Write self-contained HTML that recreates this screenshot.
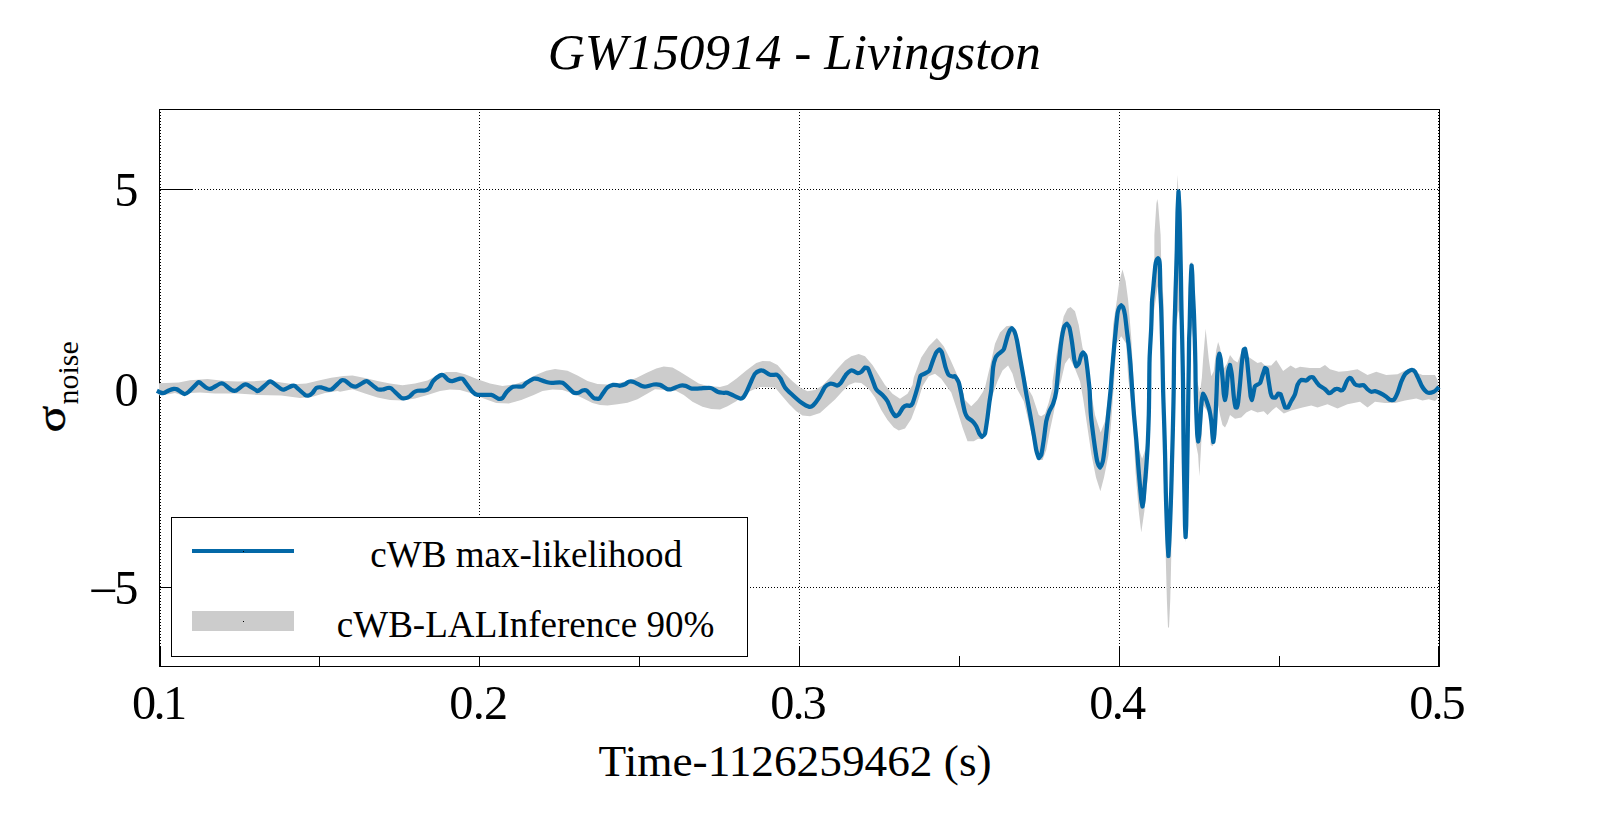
<!DOCTYPE html>
<html lang="en">
<head>
<meta charset="utf-8">
<title>GW150914 - Livingston</title>
<style>
html,body{margin:0;padding:0;background:#fff;}
body{width:1599px;height:813px;overflow:hidden;}
svg{display:block;}
text{font-family:"Liberation Serif", serif;fill:#000;}
.tick{font-size:48.3px;}
</style>
</head>
<body>
<svg width="1599" height="813" viewBox="0 0 1599 813">
<rect x="0" y="0" width="1599" height="813" fill="#ffffff"/>
<!-- grid -->
<g stroke="#000" stroke-width="1" stroke-dasharray="1 2" shape-rendering="crispEdges" fill="none">
<path d="M160.5 109V666" stroke-dashoffset="0"/>
<path d="M479.5 109V666"/>
<path d="M799.5 109V666"/>
<path d="M1119.5 109V666"/>
<path d="M1438.5 109V666"/>
<path d="M159 189.5H1439"/>
<path d="M159 388.5H1439"/>
<path d="M159 587.5H1439"/>
</g>
<!-- frame and ticks -->
<g stroke="#000" stroke-width="1" shape-rendering="crispEdges" fill="none">
<rect x="159.5" y="109.5" width="1280" height="557"/>
<path d="M160.5 646V666M479.5 646V666M799.5 646V666M1119.5 646V666M1438.5 646V666"/>
<path d="M319.5 656V666M639.5 656V666M959.5 656V666M1279.5 656V666"/>
<path d="M159 189.5H192M159 388.5H192M159 587.5H192"/>
</g>
<!-- credible band -->
<path d="M159 383.25 L178.75 382.38 L190 380.25 L207.5 379 L225 381.12 L237.5 381.5 L256.25 381.12 L268.75 380.25 L281.25 382.38 L293.75 384.25 L306.25 383.62 L318.75 380.5 L331.25 377.75 L343.75 376.12 L352.5 375.5 L365 378 L377.5 381.12 L390 383.62 L402.5 385.25 L415 383.62 L427.5 380.5 L437.5 374.88 L446.25 372 L456.25 372 L465 374.25 L477.5 379.25 L490 383.62 L502.5 386.12 L515 384.25 L527.5 379.88 L530 378 L537.5 374.25 L546.25 370.75 L555 369 L567.5 370.75 L577.5 375.5 L587.5 381.12 L597.5 384 L607.5 384.5 L617.5 383.25 L627.5 381.12 L636.25 378 L646.25 373 L656.25 368.62 L663.75 366.5 L672.5 367.38 L680 371.75 L690 378 L698.75 383.62 L707.5 386.12 L717.5 386.75 L720 386.88 L727.5 385 L736.25 378.75 L746.25 370.62 L756.25 363.12 L762.5 361 L770 361.25 L777.5 365 L785 373.75 L792.5 381.25 L800 387.5 L807.5 391.25 L815 390 L822.5 385.62 L830 377.5 L837.5 368.75 L845 360.62 L851.25 356.25 L858.75 354 L865 356.25 L872.5 365 L878.75 375 L885 385 L892.5 393.75 L900 398.75 L907.5 393.75 L907.5 393.75 L912.5 385 L913.75 377.5 L921.25 357.5 L928.75 346.25 L936.88 338.12 L943.75 346.25 L950 358.75 L955 370 L958.75 378.75 L962.5 390 L965 400 L971.25 406.25 L977.5 400 L982.5 392.5 L985 387.5 L990 366.25 L995 343.75 L1000 332.5 L1006.25 326.25 L1011.25 325.62 L1016.25 333.75 L1020 350 L1023.75 370 L1027.5 387.5 L1032.5 396.25 L1038.75 415 L1041.25 416.25 L1045 413.75 L1048.75 402.5 L1052.5 387.5 L1052.5 381.25 L1056.25 356.25 L1060 333.75 L1063.75 316.25 L1067.5 308.75 L1070.62 306.88 L1075 311.25 L1078.75 325 L1082.5 347.5 L1085 355 L1087.5 366.25 L1091.25 393.75 L1095 415 L1100.62 432.5 L1105 421.25 L1108.75 393.75 L1111.25 371.25 L1113.12 325 L1116.88 300 L1119.38 281.25 L1122.5 269.38 L1125.62 281.25 L1128.12 300 L1131.25 337.5 L1135 408.75 L1138.75 448.75 L1142.12 458.75 L1145.62 448.75 L1149.38 390 L1151.88 287.5 L1154.38 262.5 L1154.38 235 L1156.38 203.75 L1157.25 199 L1158.12 203.75 L1160.62 235 L1161.25 262.5 L1163.5 300 L1164.38 390 L1166.25 480 L1168.38 517.5 L1170.62 480 L1173.12 390 L1174.38 275 L1176.25 210 L1177.5 175 L1179.38 210 L1182.75 287.5 L1183.5 390 L1184.75 492.5 L1185.62 530 L1186.62 492.5 L1187.25 390 L1188.5 287.5 L1190.62 262.5 L1192.5 262.5 L1195 300 L1196.25 377.5 L1200 392.5 L1201.88 377.5 L1203.12 358.75 L1205.62 328.75 L1208.75 358.75 L1211.25 376.25 L1213.75 371.25 L1216.25 350 L1218.12 341.88 L1220 347.5 L1223.75 368.75 L1226.88 363.75 L1230 355 L1233.75 360 L1237.5 362.5 L1241.25 352.5 L1243.75 347.5 L1247.5 356.25 L1251.25 358.75 L1257.5 363.12 L1261.25 361.88 L1265 365.62 L1271.25 365.62 L1276.25 360 L1283.12 371.12 L1290.62 365.5 L1295.62 368.62 L1300 366.75 L1310 368 L1320 368 L1325 364.88 L1330 369.25 L1338.75 371.75 L1347.5 371.12 L1357.5 369.25 L1367.5 374.88 L1376.25 371.75 L1386.25 374.88 L1397.5 374.25 L1405 370.5 L1410 368.62 L1417.5 373 L1422.5 374.88 L1435 374.88 L1437.75 380.5 L1437.75 398 L1435 401.12 L1428.75 399.25 L1422.5 400.5 L1416.25 398.62 L1405 400.5 L1395 403 L1385 403 L1375 401.75 L1367.5 407.38 L1360 401.75 L1347.5 404.25 L1337.5 408.62 L1327.5 404.25 L1317.5 407.38 L1311.25 405.5 L1302.5 407.38 L1291.25 410.5 L1283.75 413.62 L1276.25 406.88 L1272.5 410 L1267.5 415 L1263.75 411.25 L1257.5 412.5 L1251.25 410 L1246.25 412.5 L1241.25 417.5 L1235 418.75 L1230 415 L1227.5 422.5 L1225 427.5 L1222.5 425 L1220 415 L1217.5 402.5 L1215.62 437.5 L1212.75 446.25 L1210.62 445 L1210 415 L1203.12 405 L1201 448.75 L1199.38 476.25 L1198.12 455 L1195.62 442.5 L1194.75 377.5 L1193 337.5 L1191.5 325 L1190 337.5 L1188.75 377.5 L1188.5 467.5 L1187.5 517.5 L1185.62 542.5 L1184 517.5 L1182.75 467.5 L1182.75 377.5 L1180.75 325 L1178.5 310 L1176.25 325 L1174 377.5 L1173.75 467.5 L1171.25 517.5 L1171.25 557.5 L1170.25 600 L1169 627.5 L1168 627.5 L1166.88 600 L1165.75 557.5 L1165.62 517.5 L1163.12 467.5 L1161.88 377.5 L1161.25 312.5 L1157.75 286.25 L1153.75 312.5 L1150.62 358.75 L1148.12 402.5 L1148.12 473.75 L1144.38 511.25 L1141.25 532.5 L1138.75 511.25 L1135.62 473.75 L1132.5 415 L1128.12 377.5 L1126.25 343.75 L1121.25 336.25 L1116.25 343.75 L1114.38 377.5 L1111.25 421.25 L1108.5 455 L1104 477.5 L1100.38 491.25 L1096 477.5 L1091.5 455 L1086.88 423.75 L1083.12 398.75 L1080 381.25 L1075 368.75 L1069.38 357.5 L1065 363.75 L1061.25 380 L1056.88 395 L1053.75 412.5 L1050 430 L1046.25 450 L1042.5 460 L1038.75 460 L1035 450 L1030 427.5 L1023.75 401.25 L1016.25 387.5 L1012.5 373.75 L1008.12 365.62 L1002.5 370.62 L997.5 381.25 L991.25 398.75 L988.75 417.5 L986.25 433.75 L981.88 439.38 L978.12 438.75 L973.75 441.25 L967.5 441.25 L962.5 427.5 L957.5 411.25 L951.25 392.5 L947.5 387.5 L941.25 378.75 L935 373.75 L928.75 376.25 L922.5 386.25 L917.5 402.5 L911.25 419 L905 428.38 L898.75 430.62 L893.75 427.5 L887.5 420 L881.25 410 L875 397.5 L868.75 388.75 L861.25 383.12 L855 382.5 L848.75 385 L842.5 391.25 L835 399.38 L827.5 406.25 L820 413.12 L810 416.25 L802.5 415.62 L796.25 411.25 L788.75 403.75 L781.25 395 L775 387.5 L760 386.88 L752.5 390 L745 393.75 L736.25 401.25 L727.5 406.25 L720 409.38 L720 409.5 L711.25 409 L702.5 406.75 L692.5 401.75 L683.75 394.88 L676.25 391.12 L665 389.88 L655 389.25 L646.25 394.25 L637.5 399.25 L627.5 402.75 L617.5 404.25 L607.5 405.5 L600 404.88 L592.5 403 L582.5 398 L571.25 393 L562.5 389.88 L552.5 389.62 L542.5 391.12 L533.75 394.88 L521.25 399.88 L508.75 403.62 L496.25 403 L483.75 398.62 L471.25 393.25 L460 389.88 L450 389.62 L440 391 L427.5 394.88 L415 398.62 L402.5 400.5 L390 399.88 L377.5 397.38 L365 393.62 L352.5 389.25 L340 391.75 L337.5 391.12 L325 393 L312.5 396.75 L300 398 L281.25 395.5 L256.25 394.88 L237.5 393.62 L215 393.62 L200 392.38 L190 393 L183.75 395.75 L175 393 L168.75 394.25 L159 395.25Z" fill="#cccccc" stroke="none"/>
<!-- waveform -->
<path d="M156.88 390.75C158.00 391.31 159.77 392.34 160.62 392.62C161.47 392.90 162.99 393.20 163.75 393C164.51 392.80 167.31 391.09 168.75 390.5C170.19 389.91 172.90 389.01 173.75 388.88C174.60 388.75 176.11 388.88 176.88 389.25C177.65 389.62 183.65 393.85 184.38 394C185.11 394.15 187.68 392.66 188.75 391.75C189.82 390.84 197.85 382.60 198.12 382.38C198.39 382.16 199.59 382.36 200 382.62C200.41 382.88 205.87 387.46 206.88 388C207.89 388.54 210.26 388.95 211.25 388.62C212.24 388.29 219.14 383.94 220 383.62C220.86 383.30 222.91 383.54 223.75 384C224.59 384.46 230.10 389.28 231.25 389.88C232.40 390.48 235.24 390.90 236.25 390.5C237.26 390.10 242.94 385.28 243.75 384.88C244.56 384.48 246.63 384.49 247.5 384.88C248.37 385.27 257.03 390.96 257.5 391.12C257.97 391.28 259.79 389.93 260.62 389.25C261.45 388.57 268.99 381.75 269.38 381.5C269.77 381.25 271.30 381.63 271.88 382C272.46 382.37 280.53 388.57 281.25 389C281.97 389.43 283.63 389.72 284.38 389.5C285.13 389.28 291.11 386.13 291.88 385.88C292.65 385.63 294.38 385.69 295 386.12C295.62 386.55 304.20 394.33 305 394.88C305.80 395.43 307.94 395.70 308.75 395.5C309.56 395.30 311.60 393.90 312.5 393C313.40 392.10 315.37 388.57 316.25 388C317.13 387.43 319.90 387.20 321.25 387.38C322.60 387.56 326.30 389.29 327.5 389.5C328.70 389.71 331.03 389.80 331.88 389.25C332.73 388.70 340.57 380.96 341.25 380.5C341.93 380.04 344.63 380.43 345 380.5C345.37 380.57 345.88 381.20 346.25 381.5C346.62 381.80 350.03 384.89 351.25 385.5C352.47 386.11 355.14 386.82 356.25 386.5C357.36 386.18 364.28 381.79 365 381.5C365.72 381.21 367.46 381.34 368.12 381.75C368.78 382.16 376.43 388.67 377.5 389.25C378.57 389.83 381.10 389.68 382.5 389.5C383.90 389.32 386.46 388.13 387.5 388C388.54 387.87 390.52 387.86 391.25 388.38C391.98 388.90 400.29 397.13 401.25 397.75C402.21 398.37 405.17 398.20 406.25 398C407.33 397.80 409.04 396.84 410 396.12C410.96 395.40 412.82 393.04 413.75 392.38C414.68 391.72 416.37 390.94 417.5 390.75C418.63 390.56 423.70 390.80 425 390.5C426.30 390.20 428.54 388.97 429.38 388C430.22 387.03 431.71 382.78 433.12 381.12C434.53 379.46 439.23 375.91 440 375.5C440.77 375.09 443.05 375.12 443.75 375.5C444.45 375.88 447.12 379.24 448.12 379.88C449.12 380.52 451.38 381.24 452.5 381.12C453.62 381.00 459.18 378.76 460 378.62C460.82 378.48 462.63 378.73 463.12 379.25C463.61 379.77 471.38 390.53 472.5 391.75C473.62 392.97 476.02 394.63 477.5 394.88C478.98 395.13 489.22 394.51 491.25 394.88C493.28 395.25 497.09 398.34 498.12 398.62C499.15 398.90 501.79 398.56 502.5 398C503.21 397.44 505.37 393.35 506.88 391.75C508.39 390.15 511.31 387.36 513.12 386.75C514.93 386.14 521.39 386.82 522.5 386.5C523.61 386.18 525.02 383.86 526.25 383C527.48 382.14 533.46 378.76 533.75 378.62C534.04 378.48 534.63 378.57 535 378.62C535.37 378.67 537.66 378.95 538.75 379.25C539.84 379.55 546.66 382.26 550 382.75C553.34 383.24 559.94 381.68 562.5 382.75C565.06 383.82 571.99 391.69 573.12 392.38C574.25 393.07 577.69 392.96 578.75 392.75C579.81 392.54 581.45 390.76 582.5 390.5C583.55 390.24 586.08 390.22 586.88 390.75C587.68 391.28 592.65 397.31 593.75 398C594.85 398.69 598.69 398.99 599.38 398.62C600.07 398.25 601.94 394.64 603.12 393C604.30 391.36 606.24 388.41 607.5 387.38C608.76 386.35 611.99 385.12 613.12 384.88C614.25 384.64 616.75 385.15 617.5 385.25C618.25 385.35 619.33 385.84 620 385.75C620.67 385.66 623.82 384.79 625 384.25C626.18 383.71 627.70 382.02 628.75 381.75C629.80 381.48 632.45 381.57 633.75 382C635.05 382.43 640.73 385.71 641.88 386.12C643.03 386.53 645.02 386.67 646.25 386.5C647.48 386.33 651.98 384.71 653.75 384.5C655.52 384.29 658.42 384.34 660 384.88C661.58 385.42 665.80 388.58 666.88 389C667.96 389.42 670.10 389.54 671.25 389.25C672.40 388.96 678.49 386.10 680 385.75C681.51 385.40 684.10 385.51 685.62 385.88C687.14 386.25 690.05 388.30 691.88 388.62C693.71 388.94 697.56 388.46 700 388.38C702.44 388.30 708.63 387.62 710.62 388C712.61 388.38 716.14 391.21 717.5 391.75C718.86 392.29 721.03 392.58 722.5 392.75C723.97 392.92 726.15 392.54 727.5 392.88C728.85 393.22 731.88 394.78 733.75 395.62C735.62 396.46 739.29 398.36 740 398.5C740.71 398.64 742.61 398.04 743.12 397.5C743.63 396.96 745.91 393.19 746.88 391.25C747.85 389.31 750.19 383.53 751.25 381.25C752.31 378.97 754.04 374.92 755 373.75C755.96 372.58 759.15 370.89 760 370.62C760.85 370.35 762.80 370.61 763.75 371C764.70 371.39 768.30 374.26 770 374.75C771.70 375.24 775.83 374.35 776.88 374.75C777.93 375.15 779.77 377.42 780.62 378.75C781.47 380.08 783.36 385.25 785 387.5C786.64 389.75 790.17 392.85 792.5 395C794.83 397.15 799.04 400.94 801.25 402.5C803.46 404.06 808.63 406.70 809.38 406.88C810.13 407.06 812.36 406.09 813.12 405.38C813.88 404.67 817.28 400.41 818.75 398.12C820.22 395.83 824.04 388.10 825 386.88C825.96 385.66 829.29 384.00 830 383.75C830.71 383.50 832.26 383.77 833.12 384C833.98 384.23 836.22 385.70 836.88 385.62C837.54 385.54 839.83 384.07 840.62 383.12C841.41 382.17 845.21 375.67 846.25 374.38C847.29 373.09 850.04 370.88 850.62 370.62C851.20 370.36 852.93 370.70 853.75 371C854.57 371.30 856.71 373.03 857.5 373.12C858.29 373.21 860.44 372.49 861.25 371.88C862.06 371.27 864.71 367.63 865 367.5C865.29 367.37 867.77 368.16 868.12 368.75C868.47 369.34 871.39 377.18 872.5 380C873.61 382.82 875.00 387.50 876.25 389.38C877.50 391.26 880.87 393.28 882.5 395C884.13 396.72 886.34 399.24 887.5 401.25C888.66 403.26 891.01 409.65 891.88 411.25C892.75 412.85 895.52 416.20 895.62 416.25C895.72 416.30 898.11 415.12 898.75 414.38C899.39 413.64 902.35 408.35 903.12 407.5C903.89 406.65 906.14 405.57 906.88 405.38C907.62 405.19 909.41 405.95 910 405.75C910.59 405.55 912.12 404.29 912.5 403.5C912.88 402.71 914.82 396.61 915.62 394C916.42 391.39 917.40 387.88 918.12 385.25C918.84 382.62 920.04 376.56 920.62 375.62C921.20 374.68 924.45 373.79 925.62 373.12C926.79 372.45 928.84 371.56 929.38 370.62C929.92 369.68 932.26 362.28 933.12 360C933.98 357.72 935.63 353.56 936.25 352.5C936.87 351.44 939.38 349.38 939.38 349.38C939.38 349.38 941.53 351.47 941.88 352.5C942.23 353.53 944.92 365.19 945.62 367.5C946.32 369.81 948.23 374.33 948.75 375C949.27 375.67 951.84 376.37 952.5 376.5C953.16 376.63 954.77 376.03 955 376.25C955.23 376.47 958.05 380.55 958.75 382.5C959.45 384.45 960.80 391.52 961.25 393.75C961.70 395.98 962.05 399.02 962.5 401.25C962.95 403.48 964.52 410.94 965 412.5C965.48 414.06 966.52 416.36 967.5 417.5C968.48 418.64 971.23 419.98 972.5 421.25C973.77 422.52 975.37 424.66 976.25 426.25C977.13 427.84 978.84 432.73 979.38 433.75C979.92 434.77 981.88 436.88 981.88 436.88C981.88 436.88 984.70 434.78 985 433.75C985.30 432.72 986.87 421.99 987.5 417.5C988.13 413.01 988.87 406.26 989.38 402.5C989.89 398.74 990.85 393.76 991.25 390C991.65 386.24 992.71 370.52 993.12 367.5C993.53 364.48 995.12 358.72 995.62 357.5C996.12 356.28 997.73 354.77 998.75 353.75C999.77 352.73 1003.00 350.88 1003.75 349.38C1004.50 347.88 1006.88 338.16 1007.5 336.25C1008.12 334.34 1009.65 330.65 1010 330C1010.35 329.35 1011.88 328.12 1011.88 328.12C1011.88 328.12 1013.95 330.23 1014.38 331.25C1014.81 332.27 1016.31 337.34 1016.88 340C1017.45 342.66 1019.07 352.25 1020 357.5C1020.93 362.75 1022.97 374.25 1023.75 378.75C1024.53 383.25 1025.45 389.26 1026.25 393.75C1027.05 398.24 1028.91 407.74 1030 413.75C1031.09 419.76 1032.97 430.50 1033.75 435C1034.53 439.50 1035.72 447.53 1036.25 450C1036.78 452.47 1038.75 458.12 1038.75 458.12C1038.75 458.12 1040.97 456.01 1041.25 455C1041.53 453.99 1043.08 444.51 1043.75 440C1044.42 435.49 1045.65 424.29 1046.25 421.25C1046.85 418.21 1048.47 413.56 1049.38 411.25C1050.29 408.94 1052.32 406.07 1053.12 403.75C1053.92 401.43 1055.74 395.04 1056.25 391.25C1056.76 387.46 1058.75 363.51 1059.38 357.5C1060.01 351.49 1061.34 340.90 1061.88 337.5C1062.42 334.10 1064.07 327.09 1064.38 326.25C1064.69 325.41 1066.88 323.75 1066.88 323.75C1066.88 323.75 1069.04 326.31 1069.38 327.5C1069.72 328.69 1071.24 337.11 1071.88 341.25C1072.52 345.39 1074.05 358.10 1074.38 360C1074.71 361.90 1076.25 366.25 1076.25 366.25C1076.25 366.25 1078.37 364.60 1078.75 363.75C1079.13 362.90 1080.93 355.82 1081.25 355C1081.57 354.18 1083.12 352.50 1083.12 352.5C1083.12 352.50 1085.32 355.07 1085.62 356.25C1085.92 357.43 1087.00 365.87 1087.5 370C1088.00 374.13 1089.27 386.45 1089.38 387.5C1089.49 388.55 1089.64 389.95 1089.7 391C1089.76 392.05 1090.29 407.83 1090.9 415C1091.51 422.17 1093.10 433.99 1093.9 440C1094.70 446.01 1096.59 458.32 1096.9 460C1097.21 461.68 1098.33 464.86 1098.6 465.5C1098.87 466.14 1100.00 467.50 1100 467.5C1100.00 467.50 1101.13 466.14 1101.4 465.5C1101.67 464.86 1102.82 461.68 1103.1 460C1103.38 458.32 1104.93 446.01 1105.6 440C1106.27 433.99 1107.35 422.50 1108.1 415C1108.85 407.50 1110.10 395.69 1110.6 390C1111.10 384.31 1111.53 376.70 1112 371C1112.47 365.30 1113.69 351.55 1114.2 346C1114.71 340.45 1115.55 331.85 1116 327.5C1116.45 323.15 1117.30 314.76 1117.6 313C1117.90 311.24 1119.10 307.84 1119.4 307.2C1119.70 306.56 1121.25 305.30 1121.25 305.3C1121.25 305.30 1122.85 306.56 1123.1 307.2C1123.35 307.84 1124.62 312.64 1125 315C1125.38 317.36 1126.36 326.50 1126.9 331C1127.44 335.50 1128.27 341.49 1128.75 346C1129.23 350.51 1130.05 359.30 1130.5 365C1130.95 370.70 1131.68 382.50 1132.2 390C1132.72 397.50 1133.39 407.51 1134 415C1134.61 422.49 1135.67 432.51 1136.3 440C1136.93 447.49 1137.72 459.00 1138.2 465C1138.68 471.00 1139.50 480.50 1139.9 485C1140.30 489.50 1141.06 498.04 1141.3 500C1141.54 501.96 1142.50 506.50 1142.5 506.5C1142.50 506.50 1143.39 501.96 1143.6 500C1143.81 498.04 1144.28 490.90 1144.6 487C1144.92 483.10 1145.78 473.70 1146.2 468C1146.62 462.30 1147.36 451.90 1147.7 445C1148.04 438.10 1148.60 422.50 1148.8 415C1149.00 407.50 1149.09 397.50 1149.2 390C1149.31 382.50 1149.30 368.29 1149.6 359C1149.90 349.71 1150.87 335.80 1151.2 328C1151.53 320.20 1151.82 305.60 1152 302C1152.18 298.40 1152.78 293.60 1153.1 290C1153.42 286.40 1154.12 278.00 1154.4 275C1154.68 272.00 1155.18 266.51 1155.4 265C1155.62 263.49 1156.39 260.55 1156.6 260C1156.81 259.45 1158.00 258.30 1158 258.3C1158.00 258.30 1159.06 259.47 1159.2 260C1159.34 260.53 1159.71 263.50 1159.8 265C1159.89 266.50 1160.04 272.00 1160.1 275C1160.16 278.00 1160.15 285.50 1160.3 290C1160.45 294.50 1160.99 303.30 1161.2 309C1161.41 314.70 1161.71 326.50 1161.9 334C1162.09 341.50 1162.34 351.50 1162.5 359C1162.66 366.50 1162.91 382.50 1163.1 390C1163.29 397.50 1163.66 407.50 1163.9 415C1164.14 422.50 1164.49 432.50 1164.7 440C1164.91 447.50 1165.14 457.50 1165.3 465C1165.46 472.50 1165.61 484.20 1165.8 492C1165.99 499.80 1166.38 511.40 1166.6 518C1166.82 524.60 1167.17 535.20 1167.4 540C1167.63 544.80 1168.40 556.00 1168.4 556C1168.40 556.00 1169.16 544.80 1169.4 540C1169.64 535.20 1170.05 524.60 1170.3 518C1170.55 511.40 1170.96 499.80 1171.2 492C1171.44 484.20 1171.70 472.50 1171.9 465C1172.10 457.50 1172.41 447.50 1172.6 440C1172.79 432.50 1173.04 422.50 1173.2 415C1173.36 407.50 1173.59 397.50 1173.7 390C1173.81 382.50 1173.88 368.30 1174 359C1174.12 349.70 1174.38 332.70 1174.5 327C1174.62 321.30 1174.94 313.40 1175.1 308C1175.26 302.60 1175.46 294.50 1175.6 290C1175.74 285.50 1175.96 279.50 1176.1 275C1176.24 270.50 1176.63 257.50 1176.8 250C1176.97 242.50 1177.31 219.45 1177.5 213C1177.69 206.55 1178.50 191.50 1178.5 191.5C1178.50 191.50 1179.39 206.55 1179.6 213C1179.81 219.45 1180.24 242.50 1180.4 250C1180.56 257.50 1180.77 267.50 1180.9 275C1181.03 282.50 1181.19 294.00 1181.3 300C1181.41 306.00 1181.57 314.00 1181.7 320C1181.83 326.00 1182.07 334.00 1182.2 340C1182.33 346.00 1182.57 357.50 1182.7 365C1182.83 372.50 1183.02 382.50 1183.1 390C1183.18 397.50 1183.31 420.70 1183.4 430C1183.49 439.30 1183.65 451.70 1183.8 461C1183.95 470.30 1184.23 482.70 1184.4 492C1184.57 501.30 1184.90 521.40 1185 525C1185.10 528.60 1185.60 537.00 1185.6 537C1185.60 537.00 1186.10 528.60 1186.2 525C1186.30 521.40 1186.64 501.30 1186.8 492C1186.96 482.70 1187.15 470.30 1187.3 461C1187.45 451.70 1187.66 439.30 1187.8 430C1187.94 420.70 1188.28 397.50 1188.4 390C1188.52 382.50 1188.70 372.50 1188.8 365C1188.90 357.50 1189.02 343.90 1189.1 340C1189.18 336.10 1189.49 330.90 1189.6 327C1189.71 323.10 1189.87 314.40 1190 309C1190.13 303.60 1190.37 294.50 1190.5 290C1190.63 285.50 1190.87 277.85 1191 275C1191.13 272.15 1191.60 265.50 1191.6 265.5C1191.60 265.50 1192.16 272.15 1192.3 275C1192.44 277.85 1192.68 287.00 1192.8 290C1192.92 293.00 1193.16 297.00 1193.3 300C1193.44 303.00 1193.83 310.50 1194 315C1194.17 319.50 1194.59 332.50 1194.8 340C1195.01 347.50 1195.27 357.50 1195.4 365C1195.53 372.50 1195.55 382.50 1195.7 390C1195.85 397.50 1196.21 409.30 1196.4 415C1196.59 420.70 1197.05 431.74 1197.2 434C1197.35 436.26 1198.20 441.50 1198.2 441.5C1198.20 441.50 1199.10 436.26 1199.3 434C1199.50 431.74 1200.27 419.50 1200.6 415C1200.93 410.50 1201.58 401.89 1201.8 400C1202.02 398.11 1203.10 393.75 1203.1 393.75C1203.10 393.75 1204.15 395.30 1204.5 396C1204.85 396.70 1205.82 398.77 1206.25 400C1206.68 401.23 1208.68 406.97 1209.4 410C1210.12 413.03 1210.84 417.69 1211.25 421C1211.66 424.31 1212.17 431.60 1212.4 434C1212.63 436.40 1213.30 442.00 1213.3 442C1213.30 442.00 1214.19 436.41 1214.4 434C1214.61 431.59 1215.30 420.70 1215.6 415C1215.90 409.30 1216.42 396.35 1216.6 392C1216.78 387.65 1216.92 381.85 1217.12 377.5C1217.32 373.15 1217.98 360.26 1218.12 358.75C1218.26 357.24 1219.38 353.75 1219.38 353.75C1219.38 353.75 1220.42 357.23 1220.62 358.75C1220.82 360.27 1222.06 372.63 1222.5 377.5C1222.94 382.37 1223.54 391.86 1223.75 393.75C1223.96 395.64 1225.00 400.00 1225 400C1225.00 400.00 1226.05 395.64 1226.25 393.75C1226.45 391.86 1227.87 373.15 1228.12 371.25C1228.37 369.35 1230.00 365.00 1230 365C1230.00 365.00 1231.52 371.98 1231.88 375C1232.24 378.02 1233.36 392.86 1233.75 396.25C1234.14 399.64 1235.60 407.44 1235.62 407.5C1235.64 407.56 1236.84 407.58 1236.88 407.5C1236.92 407.42 1237.92 404.02 1238.12 402.5C1238.32 400.98 1239.47 389.38 1240 383.75C1240.53 378.12 1241.45 366.45 1241.88 362.5C1242.31 358.55 1243.70 349.61 1243.75 349.38C1243.80 349.15 1245.00 348.75 1245 348.75C1245.00 348.75 1246.49 355.73 1246.88 358.75C1247.27 361.77 1248.19 371.88 1248.75 377.5C1249.31 383.12 1250.46 395.10 1250.62 396.25C1250.78 397.40 1251.88 400.00 1251.88 400C1251.88 400.00 1252.78 396.51 1253.12 395C1253.46 393.49 1254.38 387.32 1255 386.25C1255.62 385.18 1259.22 384.24 1260 383.12C1260.78 382.00 1261.76 377.75 1262.5 375.5C1263.24 373.25 1265.00 368.00 1265 368C1265.00 368.00 1266.76 368.81 1266.88 369.25C1267.00 369.69 1268.22 378.37 1268.75 381.75C1269.28 385.13 1270.30 391.65 1270.62 393C1270.94 394.35 1272.22 397.14 1272.5 397.38C1272.78 397.62 1275.19 397.67 1275.62 397.38C1276.05 397.09 1277.90 393.76 1278.12 393.62C1278.34 393.48 1280.40 393.90 1280.62 394.25C1280.84 394.60 1282.56 400.06 1283.12 401.75C1283.68 403.44 1284.80 407.16 1285 407.38C1285.20 407.60 1287.82 407.68 1288.12 407.38C1288.42 407.08 1290.28 402.98 1291.25 401.12C1292.22 399.26 1294.18 396.38 1295 394.25C1295.82 392.12 1296.81 386.47 1297.5 384.88C1298.19 383.29 1300.58 380.22 1301.25 379.88C1301.92 379.54 1305.29 380.78 1306.25 380.5C1307.21 380.22 1309.34 377.68 1310 377.38C1310.66 377.08 1312.69 377.01 1313.12 377.38C1313.55 377.75 1317.21 383.34 1318.75 384.88C1320.29 386.42 1323.78 388.26 1325 389.25C1326.22 390.24 1328.39 392.82 1328.75 393C1329.11 393.18 1330.65 392.74 1331.25 392.38C1331.85 392.02 1334.31 389.59 1335 389.25C1335.69 388.91 1337.32 388.84 1338.12 389C1338.92 389.16 1340.82 390.53 1341.25 390.5C1341.68 390.47 1343.33 389.31 1343.75 388.62C1344.17 387.93 1346.34 382.14 1346.88 381.12C1347.42 380.10 1349.20 378.10 1349.38 378C1349.56 377.90 1350.94 378.27 1351.25 378.62C1351.56 378.97 1354.31 383.62 1355 384.25C1355.69 384.88 1357.65 385.37 1358.75 385.5C1359.85 385.63 1362.86 384.87 1363.75 385.25C1364.64 385.63 1366.51 388.39 1367.5 389.25C1368.49 390.11 1370.44 391.55 1371.25 391.75C1372.06 391.95 1374.02 390.98 1375 391.12C1375.98 391.26 1378.59 392.29 1380 393C1381.41 393.71 1385.06 395.93 1386.25 396.75C1387.44 397.57 1389.20 399.55 1390 399.88C1390.80 400.21 1393.35 400.24 1393.75 399.88C1394.15 399.52 1396.62 395.14 1397.5 393C1398.38 390.86 1400.33 384.06 1401.25 381.75C1402.17 379.44 1404.23 375.35 1405 374.25C1405.77 373.15 1407.94 371.63 1408.75 371.12C1409.56 370.61 1411.27 369.82 1411.88 369.88C1412.49 369.94 1414.46 371.01 1415 371.75C1415.54 372.49 1417.77 377.21 1418.75 379.25C1419.73 381.29 1421.11 384.74 1421.88 386.12C1422.65 387.50 1424.25 389.70 1425 390.5C1425.75 391.30 1427.32 392.64 1428.12 392.75C1428.92 392.86 1432.77 392.14 1433.75 391.75C1434.73 391.36 1436.21 389.84 1436.88 389.25C1437.55 388.66 1438.36 387.76 1439 387.12" fill="none" stroke="#0368a7" stroke-width="4.25" stroke-linejoin="round" stroke-linecap="butt"/>
<!-- legend -->
<rect x="171.5" y="517.5" width="576" height="139" fill="#ffffff" stroke="#000" stroke-width="1" shape-rendering="crispEdges"/>
<rect x="192" y="549" width="102" height="4" fill="#0368a7" shape-rendering="crispEdges"/>
<rect x="243" y="551" width="1" height="1" fill="#000" shape-rendering="crispEdges"/>
<rect x="192" y="611" width="102" height="20" fill="#cccccc" shape-rendering="crispEdges"/>
<rect x="243" y="621" width="1" height="1" fill="#000" shape-rendering="crispEdges"/>
<text x="526.2" y="567" font-size="37.1" text-anchor="middle">cWB max-likelihood</text>
<text x="525.6" y="637" font-size="37.1" text-anchor="middle">cWB-LALInference 90%</text>
<!-- title -->
<text x="794.3" y="69.2" font-size="51.3" font-style="italic" text-anchor="middle">GW150914 - Livingston</text>
<!-- y tick labels -->
<text class="tick" x="114.3" y="206.3">5</text>
<text class="tick" x="114.5" y="405.5">0</text>
<text class="tick"><tspan x="88.5" y="608.4" font-size="51.5">−</tspan><tspan x="114.3" y="604.3">5</tspan></text>
<!-- x tick labels -->
<text class="tick" x="132" y="718.6" letter-spacing="-2.6">0.1</text>
<text class="tick" x="449.3" y="718.6" letter-spacing="-0.8">0.2</text>
<text class="tick" x="770.3" y="718.6" letter-spacing="-2.0">0.3</text>
<text class="tick" x="1089.3" y="718.6" letter-spacing="-1.7">0.4</text>
<text class="tick" x="1409.3" y="718.6" letter-spacing="-2.0">0.5</text>
<!-- axis titles -->
<text x="598.6" y="775.6" font-size="45.3">Time-1126259462 (s)</text>
<g transform="translate(65.2,432.6) rotate(-90)"><text x="0" y="0" font-size="46" stroke="#000" stroke-width="0.5" transform="scale(1.08,0.92)">σ</text><text x="28" y="12.8" font-size="30">noise</text></g>
</svg>
</body>
</html>
